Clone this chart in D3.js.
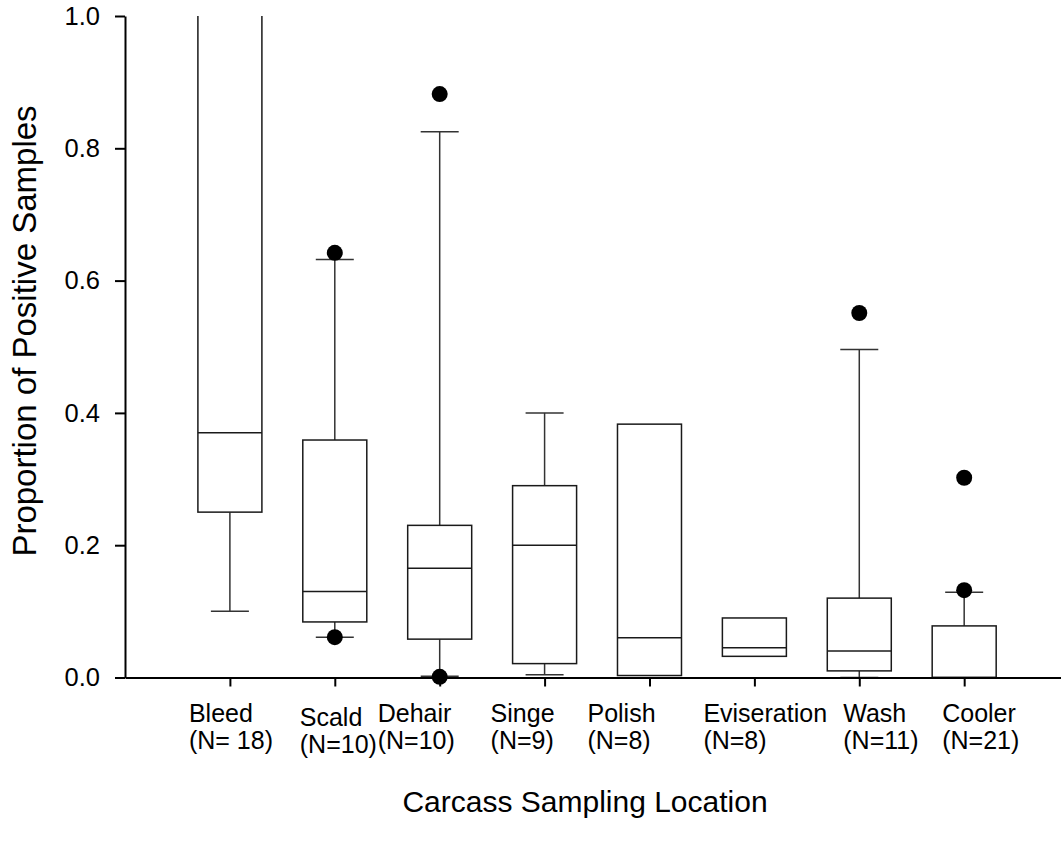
<script src="https://d3js.org/d3.v7.min.js"></script>

<svg id="vis"></svg>

<script>
  // Data Setup
  var categories = ['Bleed', 'Scald', 'Dehair', 'Singe', 'Polish', 'Eviseration', 'Wash', 'Cooler']
  var countLabels = ['(N= 18)', '(N=10)', '(N=10)', '(N=9)', '(N=8)', '(N=8)', '(N=11)', '(N=21)']

  // box statistics (null = not drawn)
  var q1Data = [0.250, 0.084, 0.058, 0.021, 0.003, 0.032, 0.010, 0.000]
  var medianData = [0.370, 0.130, 0.165, 0.200, 0.060, 0.045, 0.040, 0.000]
  var q3Data = [1.05, 0.359, 0.230, 0.290, 0.383, 0.090, 0.120, 0.078]
  var lowCapData = [0.100, 0.061, 0.002, 0.004, null, null, 0.000, null]
  var highCapData = [1.05, 0.632, 0.825, 0.400, null, null, 0.496, 0.129]
  var outlierData = [[], [0.642, 0.061], [0.882, 0.001], [], [], [], [0.551], [0.302, 0.132]]

  var yTicks = [0, 0.2, 0.4, 0.6, 0.8, 1.0]

  // label placement (left edge offset from each tick, extra drop)
  var labelDx = [-41, -35, -62, -54, -62, -51, -16, -22]
  var labelDy = [0, 4, 0, 0, 0, 0, 0, 0]

  // SVG Setup
  var width = 1061, height = 856
  var svg = d3.select('#vis')
  .attr('width', width)
  .attr('height', height)
  .style('font-family', 'Liberation Sans, Arial, sans-serif')

  d3.select('body').style('margin', 0).style('background', 'white')

  var yscale = d3.scaleLinear()
  .domain([0, 1])
  .range([677.5, 16])

  // categories sit at 1..8 on a linear axis
  var xscale = d3.scaleLinear()
  .domain([0, 8.923])
  .range([125, 1061])

  var boxHalf = 32
  var capHalf = 19

  // clip everything to the plot area
  svg.append('clipPath').attr('id', 'plotclip')
  .append('rect')
  .attr('x', 125).attr('y', yscale(1))
  .attr('width', width - 125).attr('height', yscale(0) - yscale(1) + 12)

  var plot = svg.append('g').attr('clip-path', 'url(#plotclip)')

  var boxes = plot.selectAll('g.box')
  .data(categories)
  .enter().append('g')
  .attr('class', 'box')
  .attr('transform', function(d, i) { return 'translate(' + xscale(i + 1) + ',0)' })

  // whiskers
  boxes.each(function(d, i) {
    var g = d3.select(this)
    if (lowCapData[i] !== null) {
      g.append('line')
      .attr('x1', 0).attr('x2', 0)
      .attr('y1', yscale(q1Data[i])).attr('y2', yscale(lowCapData[i]))
      .attr('stroke', '#333').attr('stroke-width', 1.5)
      g.append('line')
      .attr('x1', -capHalf).attr('x2', capHalf)
      .attr('y1', yscale(lowCapData[i])).attr('y2', yscale(lowCapData[i]))
      .attr('stroke', '#333').attr('stroke-width', 1.5)
    }
    if (highCapData[i] !== null) {
      g.append('line')
      .attr('x1', 0).attr('x2', 0)
      .attr('y1', yscale(q3Data[i])).attr('y2', yscale(highCapData[i]))
      .attr('stroke', '#333').attr('stroke-width', 1.5)
      g.append('line')
      .attr('x1', -capHalf).attr('x2', capHalf)
      .attr('y1', yscale(highCapData[i])).attr('y2', yscale(highCapData[i]))
      .attr('stroke', '#333').attr('stroke-width', 1.5)
    }
  })

  // boxes
  boxes.append('rect')
  .attr('x', -boxHalf)
  .attr('width', boxHalf * 2)
  .attr('y', function(d, i) { return yscale(q3Data[i]) })
  .attr('height', function(d, i) { return yscale(q1Data[i]) - yscale(q3Data[i]) })
  .attr('fill', 'white')
  .attr('stroke', '#1a1a1a')
  .attr('stroke-width', 1.5)

  // medians
  boxes.append('line')
  .attr('x1', -boxHalf).attr('x2', boxHalf)
  .attr('y1', function(d, i) { return yscale(medianData[i]) })
  .attr('y2', function(d, i) { return yscale(medianData[i]) })
  .attr('stroke', '#1a1a1a')
  .attr('stroke-width', 1.5)

  // outliers
  boxes.selectAll('circle')
  .data(function(d, i) { return outlierData[i] })
  .enter().append('circle')
  .attr('cx', 0)
  .attr('cy', function(d) { return yscale(d) })
  .attr('r', 8)
  .attr('fill', 'black')

  // Y axis
  var yAxis = svg.append('g')
  .attr('transform', 'translate(125,0)')
  .call(d3.axisLeft(yscale).tickValues(yTicks).tickFormat(d3.format('.1f')).tickSize(10).tickSizeOuter(0).tickPadding(15))
  yAxis.select('.domain').attr('stroke-width', 2)
  yAxis.selectAll('.tick line').attr('stroke-width', 2)
  yAxis.selectAll('.tick text').attr('font-size', 25.5).attr('font-family', 'Liberation Sans, Arial, sans-serif').attr('fill', 'black')

  // X axis
  var xAxis = svg.append('g')
  .attr('transform', 'translate(0,' + yscale(0) + ')')
  .call(d3.axisBottom(xscale).tickValues(d3.range(1, categories.length + 1)).tickFormat('').tickSize(9).tickSizeOuter(0))
  xAxis.select('.domain').attr('stroke-width', 2)
  xAxis.selectAll('.tick line').attr('stroke-width', 2)

  // category labels
  var labels = svg.selectAll('text.cat')
  .data(categories)
  .enter().append('text')
  .attr('class', 'cat')
  .attr('font-size', 25)
  .attr('fill', 'black')
  .attr('transform', function(d, i) { return 'translate(' + (xscale(i + 1) + labelDx[i]) + ',' + (722 + labelDy[i]) + ')' })

  labels.append('tspan').attr('x', 0).attr('y', 0).text(function(d) { return d })
  labels.append('tspan').attr('x', 0).attr('y', 27).text(function(d, i) { return countLabels[i] })

  // axis titles
  svg.append('text')
  .attr('x', 585).attr('y', 812)
  .attr('text-anchor', 'middle')
  .attr('font-size', 30)
  .text('Carcass Sampling Location')

  svg.append('text')
  .attr('transform', 'translate(36,331) rotate(-90)')
  .attr('text-anchor', 'middle')
  .attr('font-size', 33)
  .text('Proportion of Positive Samples')
</script>
